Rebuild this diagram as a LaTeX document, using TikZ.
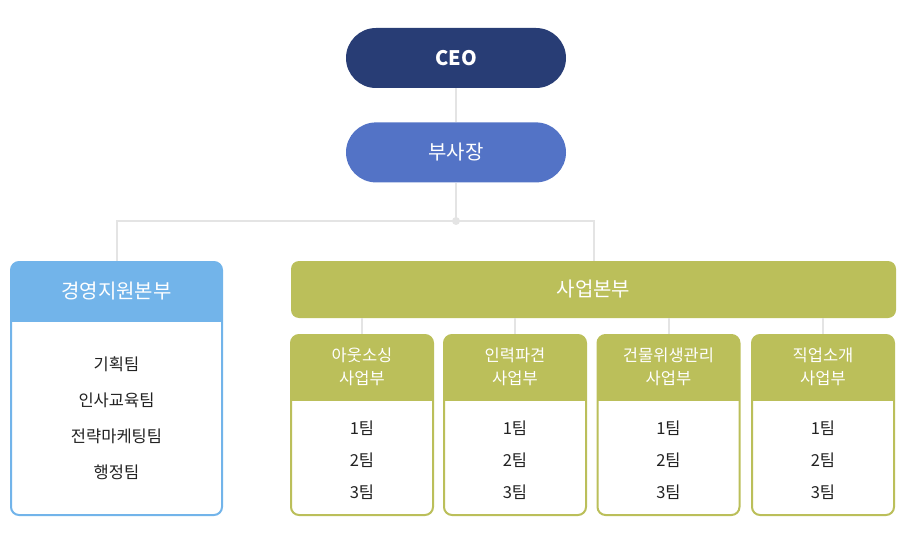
\documentclass[tikz,border=0pt]{standalone}
\usepackage{fontspec}
\setmainfont{Noto Sans CJK KR}
\usetikzlibrary{positioning}
\definecolor{ceoblue}{RGB}{40,61,117}
\definecolor{vpblue}{RGB}{83,115,198}
\definecolor{skyblue}{RGB}{114,180,234}
\definecolor{olive}{RGB}{187,191,90}
\definecolor{linegray}{RGB}{228,228,228}
\definecolor{textgray}{RGB}{34,34,34}

\begin{document}
\begin{tikzpicture}[
    x=1pt, y=1pt,
    exec/.style={rectangle, rounded corners=30pt, minimum width=220pt, minimum height=60pt, text=white, font=\fontsize{20}{24}\selectfont},
    division/.style={rectangle, rounded corners=8pt, fill=olive, minimum width=605pt, minimum height=57pt, text=white, font=\fontsize{20}{24}\selectfont},
    mgmtpanel/.style={rectangle, draw=skyblue, line width=2pt, rounded corners=8pt, fill=white, minimum width=211pt, minimum height=253pt,
        path picture={\fill[skyblue, sharp corners] (path picture bounding box.north west) rectangle ([yshift=-60pt]path picture bounding box.north east);}},
    subpanel/.style={rectangle, draw=olive, line width=2pt, rounded corners=8pt, fill=white, minimum width=142pt, minimum height=180pt,
        path picture={\fill[olive, sharp corners] (path picture bounding box.north west) rectangle ([yshift=-66pt]path picture bounding box.north east);}},
    headtext/.style={text=white, font=\fontsize{20}{24}\selectfont},
    subhead/.style={text=white, align=center, font=\fontsize{16.5}{23}\selectfont},
    item/.style={text=textgray, font=\fontsize{16.5}{20}\selectfont, inner sep=0pt},
    link/.style={draw=linegray, line width=2pt},
    joint/.style={circle, fill=linegray, minimum size=8pt, inner sep=0pt}
]
    \useasboundingbox (0,0) rectangle (900,550);

    % Top executives
    \node [exec, fill=ceoblue] (ceo) at (456,492) {\textbf{CEO}};
    \node [exec, fill=vpblue, below=34pt of ceo] (vp) {부사장};
    \coordinate (junc) at (456,329);

    % Divisions
    \node [mgmtpanel] (mgmt) at (116.5,161.5) {};
    \node [headtext] (mgmthead) at ([yshift=-30pt]mgmt.north) {경영지원본부};
    \foreach \team [count=\i] in {기획팀, 인사교육팀, 전략마케팅팀, 행정팀}
        \node [item] (mgmt\i) at (116.5,222-36*\i) {\team};

    \node [division] (biz) at (593.5,260.5) {사업본부};

    % Business units
    \foreach \name/\x/\unit in {out/362/아웃소싱, staff/515/인력파견, clean/668.5/건물위생관리, job/823/직업소개} {
        \node [subpanel] (\name) at (\x,125) {};
        \node [subhead] (\name head) at ([yshift=-33pt]\name.north) {\unit\\사업부};
        \foreach \i in {1,2,3}
            \node [item] (\name\i) at (\x,154-32*\i) {\i{}팀};
        \draw [link] (biz.south -| \name.north) -- (\name.north);
    }

    % Connections
    \draw [link] (ceo) -- (vp);
    \draw [link] (vp) -- (junc);
    \draw [link] (mgmt.north) |- (junc) -| (biz.north);
    \node [joint] at (junc) {};
\end{tikzpicture}
\end{document}
